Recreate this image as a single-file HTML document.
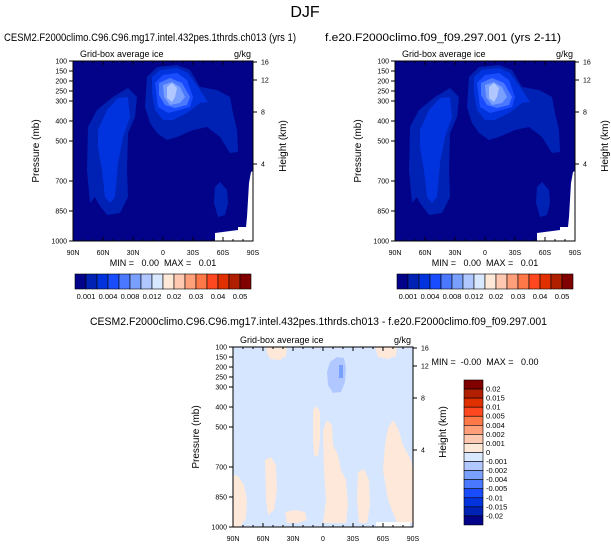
<!DOCTYPE html>
<html><head><meta charset="utf-8"><style>
body{margin:0;background:#fff;width:611px;height:547px;overflow:hidden;font-family:"Liberation Sans",sans-serif}
svg{display:block}
text.pre{white-space:pre}
</style></head><body>
<svg id="s" width="611" height="547" viewBox="0 0 611 547" font-family="Liberation Sans, sans-serif">
<text x="305" y="17" font-size="16" text-anchor="middle">DJF</text>
<defs>
<g id="field">
 <rect x="73" y="61" width="180" height="180" fill="#03038a"/>
 <polygon fill="#0022b4" points="88,127 97,110 113,97 128,88 137,97 135,117 128,133 127,170 128,197 120,213 107,215 98,203 95,197 90,203 87,170"/>
 <polygon fill="#0033dd" points="98,130 107,110 118,98 128,97 130,117 123,137 118,163 115,197 110,203 105,197 102,170 98,147"/>
 <polygon fill="#0022b4" points="147,77 157,67 177,65 190,70 200,87 217,90 230,97 233,113 237,130 238,152 230,153 220,137 207,127 193,130 177,137 167,140 157,133 150,123 145,107"/>
 <polygon fill="#0033dd" points="152,77 160,70 177,68 188,73 198,87 208,102 200,103 187,113 173,120 163,120 155,110 152,93"/>
 <polygon fill="#1a4cff" points="155,83 163,75 177,73 187,80 193,97 190,107 180,110 168,113 158,107"/>
 <polygon fill="#4a78ff" points="159,83 170,78 182,83 190,97 187,105 175,108 165,105 159,95"/>
 <polygon fill="#7aa0ff" points="163,85 172,82 180,87 185,97 180,103 170,105 164,97"/>
 <polygon fill="#b0c8ff" points="167,87 172,83 177,88 175,97 172,102 167,98"/>
 <polygon fill="#0022b4" points="215,187 220,182 227,190 228,203 225,215 218,217 214,203"/>
 <polygon fill="#fff" points="215,237 215,233 238,230 238,227 246,227 247,217 249,183 251,172 253,171 253,241 215,241"/>
</g>
</defs>
<g><use href="#field"/></g>
<g><use href="#field" transform="translate(322,0)"/></g>
<g>
 <rect x="233" y="347" width="180" height="180" fill="#d6e6ff"/>
 <g fill="#fde8da">
  <polygon points="266,347 287,347 286,356 280,360 270,359 267,353"/>
  <polygon points="375,347 397,347 396,356 388,359 378,357"/>
  <polygon points="313,410 317,406 320,412 320,440 318,457 314,455 313,440"/>
  <polygon points="323,430 327,420 332,425 333,445 338,455 341,470 346,480 348,505 346,523 323,523 326,500 324,470"/>
  <polygon points="233,475 238,476 244,485 247,500 246,518 240,527 233,527"/>
  <polygon points="265,460 271,457 276,465 277,490 274,510 268,515 266,500"/>
  <polygon points="388,428 393,420 398,428 403,445 411,460 413,470 413,523 397,523 388,500 383,470 385,445"/>
  <polygon points="358,472 364,469 369,480 370,505 367,523 359,523 357,500"/>
  <polygon points="285,512 295,510 305,512 307,520 298,523 287,523"/>
 </g>
 <polygon fill="#b0c8ff" points="330,362 337,357 344,358 346,368 345,382 341,392 333,393 328,385 327,372"/>
 <rect x="339" y="365" width="4" height="13" fill="#7aa0ff"/>
 <rect x="376" y="522" width="34" height="5" fill="#fff"/>
</g>
<g id="axes"></g>
</svg>
<script>
const pressureTicks=[100,150,200,250,300,400,500,700,850,1000];
const heightTicks=["16","12","8","4"];
const heightTickPressure=[105,195,355,615];
const latLabels=["90N","60N","30N","0","30S","60S","90S"];
const latValues=[90,60,30,0,-30,-60,-90];
const seqLevels=["0.001","0.004","0.008","0.012","0.02","0.03","0.04","0.05"];
const seqColors=["#03038a","#0022b4","#0033dd","#1a4cff","#4a78ff","#7aa0ff","#b0c8ff","#d8e8ff","#fee8d8","#ffc8b0","#ffa07a","#ff7848","#ff4820","#e03000","#b02000","#800000"];
const diffLevels=["0.02","0.015","0.01","0.005","0.004","0.002","0.001","0","-0.001","-0.002","-0.004","-0.005","-0.01","-0.015","-0.02"];
const NS="http://www.w3.org/2000/svg";
const ax=document.getElementById('axes');
function el(tag,attrs,txt){const e=document.createElementNS(NS,tag);for(const k in attrs)e.setAttribute(k,attrs[k]);if(txt!==undefined)e.textContent=txt;ax.appendChild(e);return e;}
function panel(x0,y0,title,tx,ty,tlen,id){
  const W=180,H=180;
  const yP=p=>y0+(p-100)/900*H;
  const xL=l=>x0+(90-l)/180*W;
  let t=el('text',{x:tx,y:ty,'font-size':11,textLength:tlen,lengthAdjust:'spacingAndGlyphs'},title);
  
  
  t=el('text',{x:x0+7,y:y0-4,'font-size':9},'Grid-box average ice');
  
  
  t=el('text',{x:x0+W-2,y:y0-4,'font-size':9,'text-anchor':'end'},'g/kg');
  
  
  const f=el('rect',{x:x0,y:y0,width:W,height:H,fill:'none',stroke:'#000','stroke-width':1});
  
  
  pressureTicks.forEach(p=>{
    const y=yP(p);
    el('line',{x1:x0-4,x2:x0,y1:y,y2:y,stroke:'#000'});
    const l=el('text',{x:x0-6,y:y+2.5,'font-size':7,'text-anchor':'end'},String(p));
    
    
  });
  for(let i=0;i<3*6+1;i++){const x=x0+i*W/18;el('line',{x1:x,x2:x,y1:y0,y2:y0+(i%3==0?4:2),stroke:'#000'});el('line',{x1:x,x2:x,y1:y0+H,y2:y0+H-(i%3==0?4:2),stroke:'#000'});}
  latValues.forEach((v,i)=>{
    const l=el('text',{x:xL(v),y:y0+H+14,'font-size':7,'text-anchor':'middle'},latLabels[i]);
    
    
  });
  heightTickPressure.forEach((p,i)=>{
    const y=yP(p);
    el('line',{x1:x0+W,x2:x0+W+4,y1:y,y2:y,stroke:'#000'});
    const l=el('text',{x:x0+W+8,y:y+2.5,'font-size':7},heightTicks[i]);
    
    
  });
  t=el('text',{x:0,y:0,'font-size':10,'text-anchor':'middle',transform:`translate(${x0-34},${y0+H/2}) rotate(-90)`},'Pressure (mb)');
  
  
  t=el('text',{x:0,y:0,'font-size':10,'text-anchor':'middle',transform:`translate(${x0+W+33},${y0+H/2-5}) rotate(-90)`},'Height (km)');
  
  
}
function hbar(x0,y0,id){
  seqColors.forEach((c,i)=>{
    const r=el('rect',{x:x0+i*11,y:y0,width:11,height:15,fill:c,stroke:'#000','stroke-width':0.6});
    
    
  });
  seqLevels.forEach((s,i)=>{
    const l=el('text',{x:x0+(2*i+1)*11,y:y0+25,'font-size':7.5,'text-anchor':'middle'},s);
    
    
  });
}
panel(73,61,'CESM2.F2000climo.C96.C96.mg17.intel.432pes.1thrds.ch013 (yrs 1)',4,41,292,'panel-1');
panel(395,61,'f.e20.F2000climo.f09_f09.297.001 (yrs 2-11)',325,41,236,'panel-2');
panel(233,347,'CESM2.F2000climo.C96.C96.mg17.intel.432pes.1thrds.ch013 - f.e20.F2000climo.f09_f09.297.001',90,325,457,'panel-3');
let m=el('text',{x:163,y:266,'font-size':9,'text-anchor':'middle',class:'pre'},'MIN =   0.00  MAX =   0.01');


m=el('text',{x:485,y:266,'font-size':9,'text-anchor':'middle',class:'pre'},'MIN =   0.00  MAX =   0.01');


m=el('text',{x:485,y:365,'font-size':9,'text-anchor':'middle',class:'pre'},'MIN =  -0.00  MAX =   0.00');


hbar(75,274,'panel-1');
hbar(397,274,'panel-2');
const vc=seqColors.slice().reverse();
vc.forEach((c,i)=>{
  const r=el('rect',{x:464,y:380+i*9.06,width:19,height:9.06,fill:c,stroke:'#000','stroke-width':0.6});
  
  
});
diffLevels.forEach((s,i)=>{
  const l=el('text',{x:486,y:380+(i+1)*9.06+2.5,'font-size':7.5},s);
  
  
});
</script>
</body></html>
